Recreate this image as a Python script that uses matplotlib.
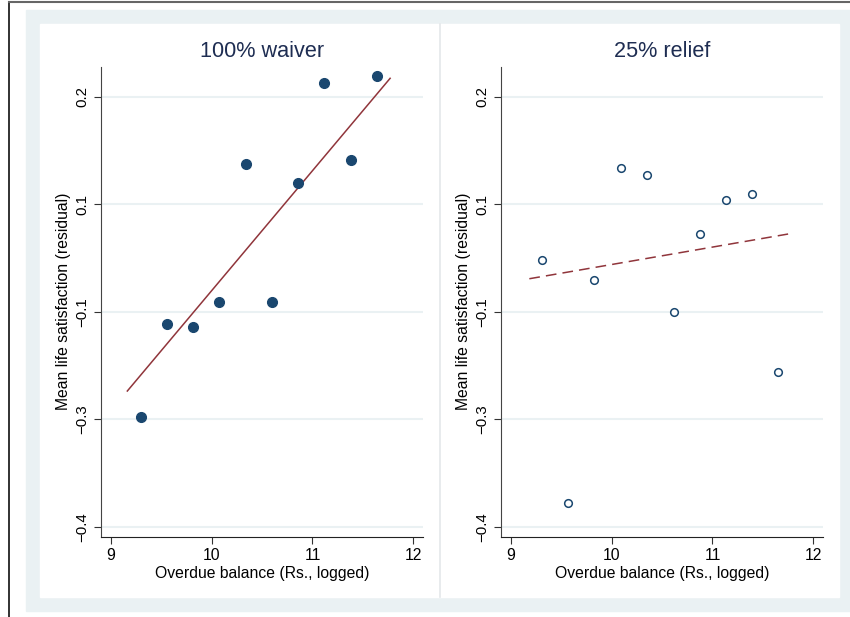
import numpy as np
import matplotlib
matplotlib.use("Agg")
import matplotlib.pyplot as plt
from matplotlib.patches import Rectangle
from matplotlib.lines import Line2D

plt.rcParams['font.family'] = ['Liberation Sans', 'DejaVu Sans']

# data
waiver_x = [11.638, 11.118, 10.337, 11.378, 10.858, 10.077, 10.601, 9.556, 9.816, 9.299]
waiver_y = [0.229, 0.2187, 0.1057, 0.112, 0.0792, -0.0865, -0.0865, -0.1172, -0.121, -0.2474]
waiver_fit_x = [9.164, 11.770]
waiver_fit_y = [-0.2107, 0.2257]

relief_x = [9.309, 9.830, 10.090, 10.350, 10.874, 11.134, 11.394, 10.614, 11.654, 9.569]
relief_y = [-0.0279, -0.0562, 0.1009, 0.0903, 0.008, 0.0554, 0.0647, -0.1, -0.1837, -0.367]
relief_fit_x = [9.184, 11.75]
relief_fit_y = [-0.054, 0.0084]

titles = ['100% waiver', '25% relief']
yticks = [0.2, 0.05, -0.1, -0.25, -0.4]
ytick_labels = ['0.2', '0.1', '\u22120.1', '\u22120.3', '\u22120.4']
xticks = [9, 10, 11, 12]

navy = '#1a476f'
maroon = '#90353b'
bg = '#eaf1f3'

W, H = 850, 617
fig = plt.figure(figsize=(W / 100, H / 100), dpi=100)
fig.patch.set_facecolor('white')

def px(x0, y0, x1, y1):
    # pixel box (top-left origin) -> figure fraction
    return (x0 / W, 1 - y1 / H, (x1 - x0) / W, (y1 - y0) / H)

l, b, w, h = px(26, 10, 860, 611)
fig.add_artist(Rectangle((l, b), w, h, transform=fig.transFigure, color=bg, zorder=0))
l, b, w, h = px(40, 24, 839, 597)
fig.add_artist(Rectangle((l, b), w, h, transform=fig.transFigure, color='white', zorder=0))
fig.add_artist(Line2D([439.5 / W] * 2, [1 - 597 / H, 1 - 24 / H], transform=fig.transFigure,
                      color='#e4e8ea', lw=1.2, zorder=1))
fig.add_artist(Line2D([9 / W] * 2, [0, 1 - 2 / H], transform=fig.transFigure,
                      color='#222222', lw=1.3, zorder=1))
fig.add_artist(Line2D([9 / W, 1], [1 - 1.5 / H] * 2, transform=fig.transFigure,
                      color='#666666', lw=1.5, zorder=1))

ax1 = fig.add_axes(px(100.7, 66.7, 423, 536.7))
ax2 = fig.add_axes(px(500.7, 66.7, 823, 536.7))

for ax, title in zip([ax1, ax2], titles):
    ax.set_facecolor('white')
    ax.set_xlim(8.9, 12.096)
    ax.set_ylim(-0.414, 0.2419)
    ax.set_yticks(yticks)
    ax.set_yticklabels(ytick_labels, rotation=90, va='center', fontsize=10.8)
    ax.set_xticks(xticks)
    ax.set_xticklabels([str(t) for t in xticks], fontsize=11.3)
    ax.tick_params(direction='out', length=5, width=0.8, color='#333333', pad=3)
    for s in ['top', 'right']:
        ax.spines[s].set_visible(False)
    ax.spines['left'].set_color('#444444')
    ax.spines['bottom'].set_color('#222222')
    for yt in yticks:
        ax.axhline(yt, color=bg, lw=1.5, zorder=0)
    ax.set_title(title, fontsize=15.6, color='#1e2d52', pad=7)
    ax.set_xlabel('Overdue balance (Rs., logged)', fontsize=11.3, labelpad=2)
    ax.set_ylabel('Mean life satisfaction (residual)', fontsize=11.3, labelpad=3)

ax1.plot(waiver_fit_x, waiver_fit_y, color=maroon, lw=1.1, zorder=2)
ax1.plot(waiver_x, waiver_y, 'o', color=navy, ms=7, zorder=3, clip_on=False)

ax2.plot(relief_fit_x, relief_fit_y, color=maroon, lw=1.1, dashes=(7, 4), zorder=2)
ax2.plot(relief_x, relief_y, 'o', mfc='white', mec=navy, mew=1.1, ms=5.5, zorder=3, clip_on=False)

fig.savefig('out.png', dpi=100)
